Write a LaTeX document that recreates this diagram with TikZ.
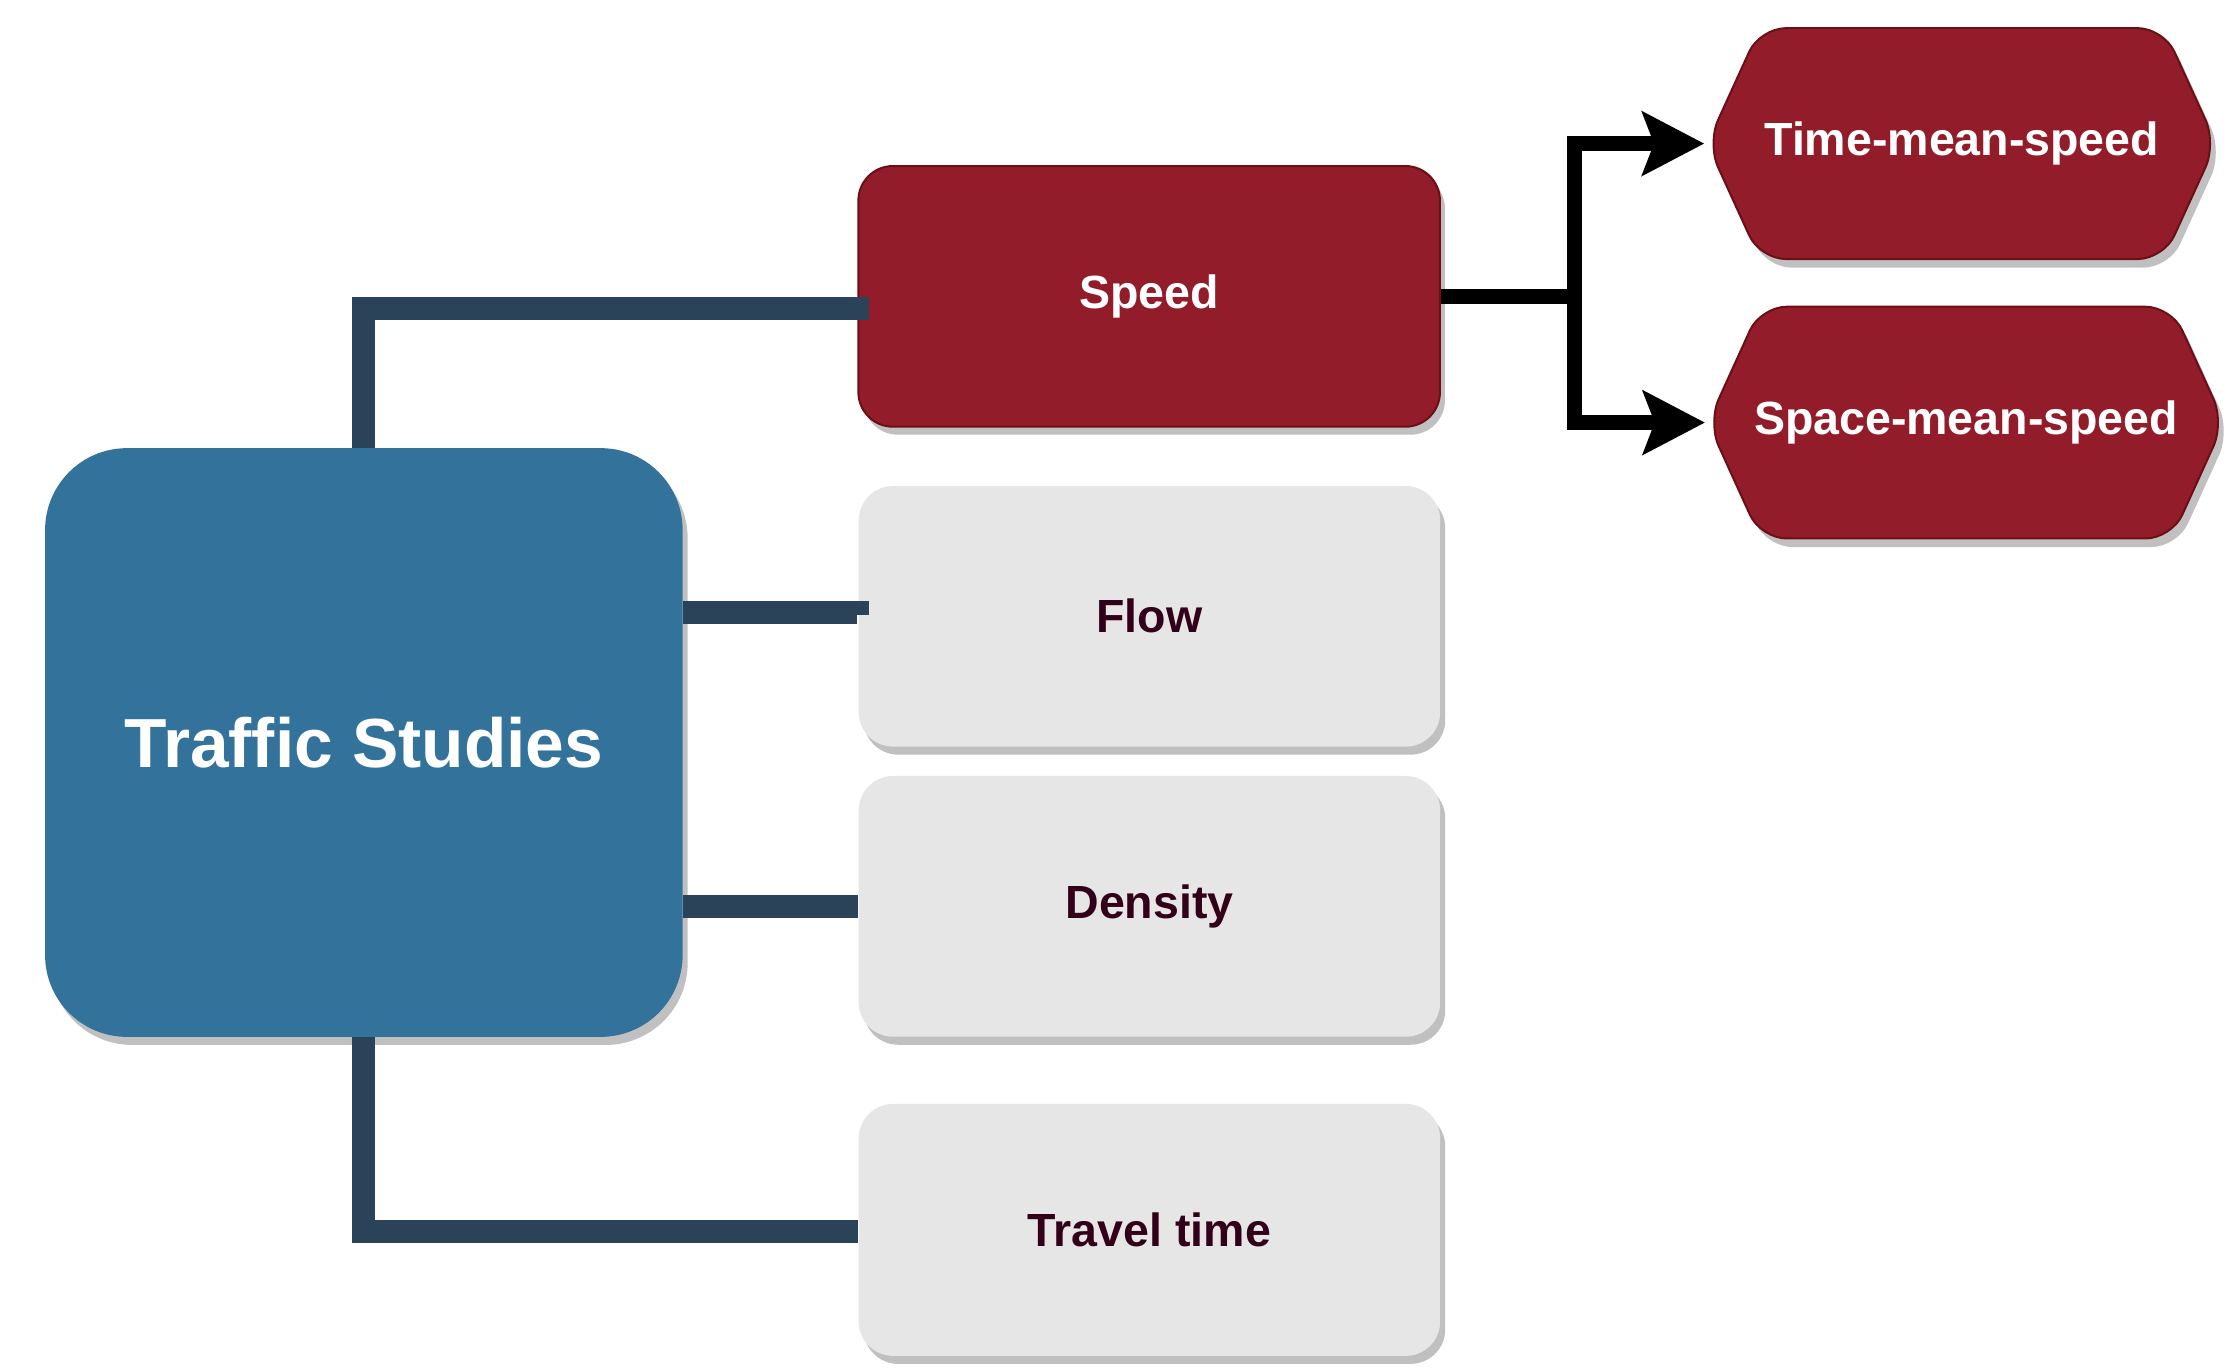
\documentclass[tikz,border=0pt]{standalone}
\usepackage{fontspec}
\setmainfont{Liberation Sans}
\usetikzlibrary{arrows.meta,shadows,calc}
\definecolor{tsblue}{RGB}{51,114,155}
\definecolor{spred}{RGB}{147,28,43}
\definecolor{spborder}{RGB}{107,15,22}
\definecolor{boxgray}{RGB}{230,230,230}
\definecolor{boxtext}{RGB}{51,0,26}
\definecolor{shadowgray}{RGB}{192,192,192}
\definecolor{connc}{RGB}{43,67,89}
% #1 cx, #2 cy, #3 half width, #4 half height, #5 style (units)
\newcommand{\myhex}[5]{%
  \path[#5] ({#1-#3},#2) -- ({#1-#3+36.7},{#2-#4}) -- ({#1+#3-36.7},{#2-#4}) -- ({#1+#3},#2)
    -- ({#1+#3-36.7},{#2+#4}) -- ({#1-#3+36.7},{#2+#4}) -- cycle;}
\tikzset{
  shadowed/.style={drop shadow={shadow xshift=1.75pt,shadow yshift=-2.8pt,fill=shadowgray,opacity=1}},
  smallfont/.style={font=\bfseries\fontsize{16.2}{19}\selectfont},
  mainbox/.style={shadowed,fill=tsblue,rounded corners=28.5pt,minimum width=222pt,minimum height=205pt,
    text=white,font=\bfseries\fontsize{24.2}{28}\selectfont,inner sep=0pt},
  speedbox/.style={shadowed,fill=spred,draw=spborder,line width=0.7pt,rounded corners=12pt,
    minimum width=202.5pt,minimum height=90.75pt,text=white,smallfont,inner sep=0pt},
  graybox/.style={shadowed,fill=boxgray,rounded corners=12pt,minimum width=202.5pt,
    text=boxtext,smallfont,inner sep=0pt},
  hexlabel/.style={minimum height=80.4pt,text=white,smallfont,inner sep=0pt},
  hexfill/.style={fill=spred,draw=spborder,line width=0.7pt,rounded corners=9pt},
  hexshadow/.style={fill=shadowgray,rounded corners=9pt,shift={(4,6)}},
  conn/.style={draw=connc,line width=8pt},
  arrowline/.style={draw=black,line width=5pt,line join=miter},
  bigtip/.tip={Stealth[length=21.5pt,width=22pt,inset=4pt]}
}
\begin{document}
\begin{tikzpicture}[x=0.5pt,y=-0.5pt]
\useasboundingbox (0,0) rectangle (1560,954);
% boxes
\node[mainbox] (ts) at (253.4,517.1) {Traffic Studies};
\node[speedbox] (speed) at (800.3,206.4) {Speed};
\node[graybox,minimum height=90.75pt] (flow) at (800.5,429.2) {Flow};
\node[graybox,minimum height=90.8pt] (density) at (800.5,631.2) {Density};
\node[graybox,minimum height=87.75pt] (travel) at (800.5,856.5) {Travel time};
% hexagons
\myhex{1366.25}{100}{177.25}{80.4}{hexshadow}
\myhex{1366.25}{100}{177.25}{80.4}{hexfill}
\myhex{1369.25}{294.3}{179.75}{80.7}{hexshadow}
\myhex{1369.25}{294.3}{179.75}{80.7}{hexfill}
\node[hexlabel,minimum width=177.25pt] (tms) at (1366.25,100) {Time-mean-speed};
\node[hexlabel,minimum width=179.75pt] (sms) at (1369.25,294.3) {Space-mean-speed};
% dark connectors
\draw[conn] (ts.north) |- ([xshift=4.15pt,yshift=-4.1pt]speed.west);
\coordinate (fl) at ([xshift=-0.5pt,yshift=1.45pt]flow.west);
\draw[conn] (ts.east |- fl) -- (fl);
\fill[connc] ([yshift=3.9pt]fl) rectangle ([xshift=4.25pt,yshift=-1pt]fl);
\draw[conn] (ts.east |- density.west) -- (density.west);
\draw[conn] (ts.south) |- ([yshift=-0.5pt]travel.west);
% black arrows
\coordinate (jn) at ([xshift=46.5pt]speed.east);
\draw[arrowline] (speed.east) -- ([xshift=2.5pt]jn);
\draw[arrowline,{bigtip}-{bigtip},shorten <=0.85pt,shorten >=0.85pt] (tms.west) -| (jn) |- (sms.west);
\end{tikzpicture}
\end{document}
